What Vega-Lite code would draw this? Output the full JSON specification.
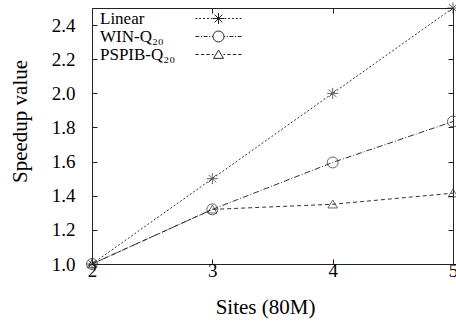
{
  "$schema": "https://vega.github.io/schema/vega-lite/v6.json",
  "width": 361,
  "height": 256,
  "autosize": {"type": "none"},
  "padding": {"left": 92, "top": 8, "right": 3, "bottom": 61},
  "background": "#ffffff",
  "config": {
    "view": {"stroke": "#222222", "strokeWidth": 1},
    "font": "Liberation Serif",
    "axis": {
      "domain": false,
      "grid": false,
      "tickSize": -5,
      "tickColor": "#222222",
      "labelFlush": false,
      "labelFont": "Liberation Serif",
      "labelFontSize": 19,
      "labelColor": "#000000",
      "titleFont": "Liberation Serif",
      "titleFontSize": 21,
      "titleFontWeight": "normal",
      "titleColor": "#000000"
    }
  },
  "data": {
    "values": [
      {"site": 2, "series": "Linear", "value": 1.0},
      {"site": 3, "series": "Linear", "value": 1.5},
      {"site": 4, "series": "Linear", "value": 2.0},
      {"site": 5, "series": "Linear", "value": 2.5},
      {"site": 2, "series": "WIN-Q₂₀", "value": 1.0},
      {"site": 3, "series": "WIN-Q₂₀", "value": 1.32},
      {"site": 4, "series": "WIN-Q₂₀", "value": 1.595},
      {"site": 5, "series": "WIN-Q₂₀", "value": 1.835},
      {"site": 2, "series": "PSPIB-Q₂₀", "value": 1.0},
      {"site": 3, "series": "PSPIB-Q₂₀", "value": 1.32},
      {"site": 4, "series": "PSPIB-Q₂₀", "value": 1.35},
      {"site": 5, "series": "PSPIB-Q₂₀", "value": 1.415}
    ]
  },
  "layer": [
    {
      "transform": [{"filter": "datum.series === 'Linear'"}],
      "mark": {"type": "line", "stroke": "#333333", "strokeWidth": 1, "strokeDash": [2, 2]},
      "encoding": {
        "x": {
          "field": "site", "type": "quantitative",
          "scale": {"domain": [2, 5], "nice": false, "zero": false},
          "axis": {"orient": "bottom", "values": [2, 3, 4, 5], "format": "d", "labelPadding": 2, "labelFlush": false,
                   "labelFont": "Liberation Serif", "labelFontSize": 19, "tickSize": -5,
                   "title": "Sites (80M)", "titleFont": "Liberation Serif", "titleFontSize": 21, "titleFontWeight": "normal",
                   "titleX": 173, "titleY": 49, "titleBaseline": "alphabetic", "titleAlign": "center"}
        },
        "y": {
          "field": "value", "type": "quantitative",
          "scale": {"domain": [1.0, 2.5], "nice": false, "zero": false},
          "axis": {"orient": "left", "values": [1.0, 1.2, 1.4, 1.6, 1.8, 2.0, 2.2, 2.4], "format": ".1f", "labelPadding": 22, "labelFlush": false,
                   "labelFont": "Liberation Serif", "labelFontSize": 19, "tickSize": -5,
                   "title": "Speedup value", "titleFont": "Liberation Serif", "titleFontSize": 21, "titleFontWeight": "normal",
                   "titleX": -72, "titleY": 113, "titleAngle": -90, "titleBaseline": "middle", "titleAlign": "center"}
        }
      }
    },
    {
      "transform": [{"filter": "datum.series === 'WIN-Q₂₀'"}],
      "mark": {"type": "line", "stroke": "#333333", "strokeWidth": 1, "strokeDash": [6, 2, 1, 2]},
      "encoding": {
        "x": {"field": "site", "type": "quantitative", "scale": {"domain": [2, 5], "nice": false, "zero": false}, "axis": null},
        "y": {"field": "value", "type": "quantitative", "scale": {"domain": [1.0, 2.5], "nice": false, "zero": false}, "axis": null}
      }
    },
    {
      "transform": [{"filter": "datum.series === 'PSPIB-Q₂₀'"}],
      "mark": {"type": "line", "stroke": "#333333", "strokeWidth": 1, "strokeDash": [4, 3]},
      "encoding": {
        "x": {"field": "site", "type": "quantitative", "scale": {"domain": [2, 5], "nice": false, "zero": false}, "axis": null},
        "y": {"field": "value", "type": "quantitative", "scale": {"domain": [1.0, 2.5], "nice": false, "zero": false}, "axis": null}
      }
    },
    {
      "transform": [{"filter": "datum.series === 'Linear'"}],
      "mark": {"type": "point", "filled": false, "stroke": "#222222", "strokeWidth": 1, "size": 120,
               "shape": "M-1,0L1,0M0,-1L0,1M-0.7,-0.7L0.7,0.7M-0.7,0.7L0.7,-0.7"},
      "encoding": {
        "x": {
          "field": "site", "type": "quantitative",
          "scale": {"domain": [2, 5], "nice": false, "zero": false},
          "axis": {"orient": "top", "values": [2, 3, 4, 5], "labels": false, "title": null, "tickSize": -5}
        },
        "y": {
          "field": "value", "type": "quantitative",
          "scale": {"domain": [1.0, 2.5], "nice": false, "zero": false},
          "axis": {"orient": "right", "values": [1.0, 1.2, 1.4, 1.6, 1.8, 2.0, 2.2, 2.4], "labels": false, "title": null, "tickSize": -5}
        }
      }
    },
    {
      "transform": [{"filter": "datum.series === 'WIN-Q₂₀'"}],
      "mark": {"type": "point", "filled": false, "stroke": "#222222", "strokeWidth": 1, "size": 120,
               "shape": "M1,0A1,1,0,1,1,-1,0A1,1,0,1,1,1,0Z"},
      "encoding": {
        "x": {"field": "site", "type": "quantitative", "scale": {"domain": [2, 5], "nice": false, "zero": false}, "axis": null},
        "y": {"field": "value", "type": "quantitative", "scale": {"domain": [1.0, 2.5], "nice": false, "zero": false}, "axis": null}
      }
    },
    {
      "transform": [{"filter": "datum.series === 'PSPIB-Q₂₀'"}],
      "mark": {"type": "point", "filled": false, "stroke": "#222222", "strokeWidth": 1, "size": 110,
               "shape": "M0,-0.8L0.9,0.7L-0.9,0.7Z"},
      "encoding": {
        "x": {"field": "site", "type": "quantitative", "scale": {"domain": [2, 5], "nice": false, "zero": false}, "axis": null},
        "y": {"field": "value", "type": "quantitative", "scale": {"domain": [1.0, 2.5], "nice": false, "zero": false}, "axis": null}
      }
    },
    {
      "transform": [{"filter": "datum.site > 100"}],
      "mark": {"type": "point", "filled": false, "stroke": "#222222", "strokeWidth": 1},
      "encoding": {
        "x": {"field": "site", "type": "quantitative", "scale": {"domain": [2, 5], "nice": false, "zero": false}, "axis": null},
        "y": {"field": "value", "type": "quantitative", "scale": {"domain": [1.0, 2.5], "nice": false, "zero": false}, "axis": null},
        "shape": {
          "field": "series", "type": "nominal",
          "scale": {
            "domain": ["Linear", "WIN-Q₂₀", "PSPIB-Q₂₀"],
            "range": [
              "M-4.2,0L-3.85,0M-3.5,0L-3.15,0M-2.8,0L-2.45,0M-2.1,0L-1.75,0M-1.4,0L-1.1,0M1.1,0L1.4,0M1.75,0L2.1,0M2.45,0L2.8,0M3.15,0L3.5,0M3.85,0L4.2,0M-1,0L1,0M0,-1L0,1M-0.7,-0.7L0.7,0.7M-0.7,0.7L0.7,-0.7",
              "M-4.2,0L-3.5,0M-3.2,0L-3.0,0M-2.7,0L-2.0,0M-1.7,0L-1.5,0M-1.2,0L-1.0,0M1.0,0L1.2,0M1.5,0L1.7,0M2.0,0L2.7,0M3.0,0L3.2,0M3.5,0L4.2,0M1,0A1,1,0,1,1,-1,0A1,1,0,1,1,1,0Z",
              "M-4.2,0L-3.6,0M-3.2,0L-2.6,0M-2.2,0L-1.6,0M-1.2,0L-0.9,0M0.9,0L1.2,0M1.6,0L2.2,0M2.6,0L3.2,0M3.6,0L4.2,0M0,-0.8L0.9,0.7L-0.9,0.7Z"
            ]
          },
          "legend": {
            "title": null,
            "orient": "none",
            "legendX": 118,
            "legendY": 2,
            "padding": 0,
            "offset": 0,
            "rowPadding": 0,
            "symbolSize": 121,
            "symbolStrokeWidth": 1,
            "symbolStrokeColor": "#222222",
            "symbolFillColor": "transparent",
            "symbolOpacity": 1,
            "labelFont": "Liberation Serif",
            "labelFontSize": 17,
            "labelColor": "#000000",
            "labelOffset": -127,
            "labelLimit": 0
          }
        }
      }
    }
  ],
  "resolve": {"axis": {"x": "independent", "y": "independent"}}
}
